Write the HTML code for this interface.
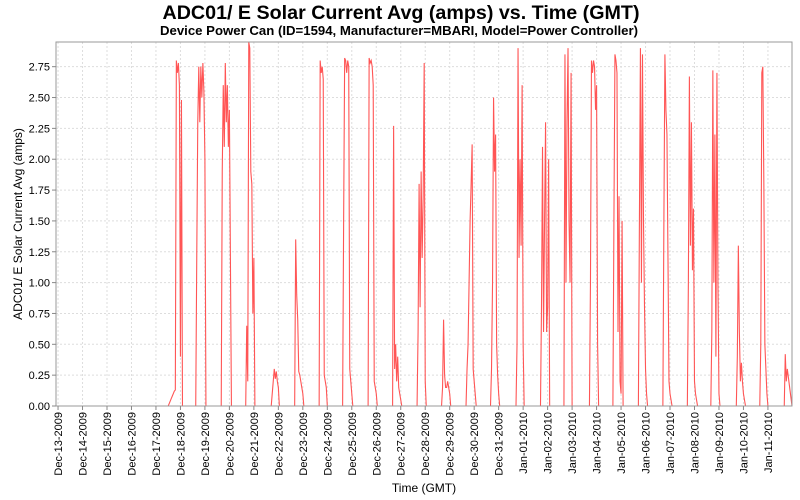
<!DOCTYPE html>
<html><head><meta charset="utf-8"><style>
html,body{margin:0;padding:0;background:#fff;}
svg{display:block;font-family:"Liberation Sans",sans-serif;}
</style></head><body>
<svg id="chart" width="800" height="500" viewBox="0 0 800 500">
<text x="401" y="19" text-anchor="middle" font-size="19" font-weight="bold" textLength="477" lengthAdjust="spacingAndGlyphs">ADC01/ E Solar Current Avg (amps) vs. Time (GMT)</text>
<text x="399" y="35" text-anchor="middle" font-size="12.5" font-weight="bold" textLength="478" lengthAdjust="spacingAndGlyphs">Device Power Can (ID=1594, Manufacturer=MBARI, Model=Power Controller)</text>
<text transform="translate(22,224) rotate(-90)" text-anchor="middle" font-size="12">ADC01/ E Solar Current Avg (amps)</text>
<text x="424" y="492" text-anchor="middle" font-size="12">Time (GMT)</text>
<g id="grid"></g>
<g id="series"></g>
<rect x="56" y="42" width="736" height="364" fill="none" stroke="#999" stroke-width="1"/>
<g id="axes"></g>
</svg>
<script>
const dayLabels = ["Dec-13-2009","Dec-14-2009","Dec-15-2009","Dec-16-2009","Dec-17-2009","Dec-18-2009","Dec-19-2009","Dec-20-2009","Dec-21-2009","Dec-22-2009","Dec-23-2009","Dec-24-2009","Dec-25-2009","Dec-26-2009","Dec-27-2009","Dec-28-2009","Dec-29-2009","Dec-30-2009","Dec-31-2009","Jan-01-2010","Jan-02-2010","Jan-03-2010","Jan-04-2010","Jan-05-2010","Jan-06-2010","Jan-07-2010","Jan-08-2010","Jan-09-2010","Jan-10-2010","Jan-11-2010"];
const yTicks = [0,0.25,0.5,0.75,1,1.25,1.5,1.75,2,2.25,2.5,2.75];
const yTickLabels = ["0.00","0.25","0.50","0.75","1.00","1.25","1.50","1.75","2.00","2.25","2.50","2.75"];
// pulse start times, hours since Dec-13-2009 00:00 GMT; values are hourly amps
const pulseStarts = [108,135,160,184,209,232,256,279,304,328,352,376,400,424,449,473,496,521,544,569,593,617,640,665,688,712];
const pulseValues = [
[0,0.02,0.04,0.06,0.08,0.1,0.12,0.13,2.8,2.7,2.78,2.6,0.4,2.48,0],
[0,1.2,2.3,2.75,2.3,2.75,2.5,2.78,2.55,2.0,0],
[0,1.9,2.6,2.1,2.78,2.3,2.6,2.1,2.4,1.2,0],
[0,0.65,0.2,2.95,2.9,1.9,1.8,0.75,1.2,0],
[0,0.1,0.2,0.3,0.22,0.28,0.2,0.15,0],
[0,1.35,0.9,0.7,0.28,0.25,0.2,0.15,0.1,0],
[0,2.8,2.7,2.75,2.65,0.25,0.2,0.15,0],
[0,1.5,2.82,2.8,2.7,2.8,2.75,0.3,0.2,0.1,0],
[0,2.82,2.78,2.8,2.75,2.6,0.2,0.15,0.1,0],
[0,2.27,0.3,0.5,0.2,0.4,0.15,0.1,0.05,0],
[0,0.6,1.8,0.8,1.9,1.2,1.7,2.78,0.2,0],
[0,0.15,0.7,0.25,0.15,0.15,0.2,0.15,0.1,0],
[0,0.3,0.5,1.0,1.5,1.8,2.12,0.3,0.2,0.1,0],
[0,0.3,1.0,2.5,1.9,2.2,0.5,0.25,0.1,0],
[0,0.5,2.9,1.2,2.0,1.3,2.6,0.5,0],
[0,0.8,2.1,0.6,1.5,2.3,0.6,0.8,2.0,0],
[0,2.85,1.0,2.3,2.9,1.5,1.0,2.7,0],
[0,1.0,2.8,2.7,2.8,2.75,2.4,2.6,0.5,0],
[0,1.5,2.85,2.8,2.7,0.6,1.7,0.2,0.1,1.5,0],
[0,1.5,2.9,1.0,2.85,1.5,0.8,0.3,0.1,0],
[0,1.5,2.85,2.4,2.2,1.2,0.2,0.1,0.05,0],
[0,1.0,2.67,1.3,2.3,1.1,1.6,0.2,0.1,0.05,0],
[0,0.6,2.72,1.0,2.2,0.4,2.7,1.0,0.1,0],
[0,0.4,1.3,0.6,0.2,0.35,0.2,0.1,0.05,0],
[0,0.5,2.7,2.75,1.8,0.5,0.3,0.1,0],
[0,0.42,0.2,0.3]
];
const NS="http://www.w3.org/2000/svg";
const L=56,R=792,T=42,B=406, xMin=-2, xMax=719.6, yMax=2.95;
function xs(h){return L+(h-xMin)/(xMax-xMin)*(R-L);}
function ys(v){return B-v/yMax*(B-T);}
function mk(tag,attrs,parent){const e=document.createElementNS(NS,tag);for(const k in attrs)e.setAttribute(k,attrs[k]);parent.appendChild(e);return e;}
const grid=document.getElementById('grid'),axes=document.getElementById('axes'),series=document.getElementById('series');
yTicks.forEach((v,i)=>{
  const y=ys(v);
  if(v>0){const g=mk('line',{x1:L,x2:R,y1:y,y2:y,stroke:'#ddd','stroke-dasharray':'2,2'},grid);
  
  }
  mk('line',{x1:L-4,x2:L,y1:y,y2:y,stroke:'#888'},axes);
  const t=mk('text',{x:L-6,y:y+4,'text-anchor':'end','font-size':'11'},axes);
  t.textContent=yTickLabels[i];
  
  
});
dayLabels.forEach((lab,i)=>{
  const x=xs(i*24);
  const g=mk('line',{x1:x,x2:x,y1:T,y2:B,stroke:'#ddd','stroke-dasharray':'2,2'},grid);
  
  
  mk('line',{x1:x,x2:x,y1:B,y2:B+4,stroke:'#888'},axes);
  const t=mk('text',{transform:'translate('+(x+4)+','+(B+6)+') rotate(-90)','text-anchor':'end','font-size':'11'},axes);
  t.textContent=lab;
  
  
});
let d='M'+xs(xMin)+','+ys(0);
pulseStarts.forEach((s,i)=>{
  d+=' L'+xs(s).toFixed(2)+','+ys(0).toFixed(2);
  pulseValues[i].forEach((v,j)=>{d+=' L'+xs(s+j).toFixed(2)+','+ys(v).toFixed(2);});
});
d+=' L'+xs(xMax)+','+ys(0);
const p=mk('path',{d:d,fill:'none',stroke:'#ff5555','stroke-width':'1.1','stroke-linejoin':'miter'},series);


</script>
</body></html>
